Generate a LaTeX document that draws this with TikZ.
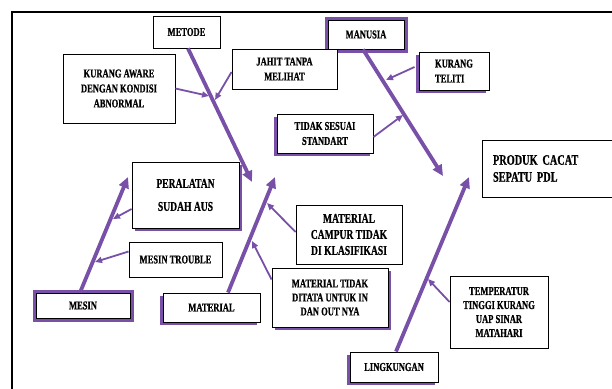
\documentclass[tikz,border=0pt]{standalone}
\usepackage{fontspec}
\setmainfont{Liberation Serif}[FakeStretch=0.71,FakeBold=0.6]
\usetikzlibrary{arrows.meta,shadows}
\definecolor{fishpurple}{RGB}{120,80,168}

\begin{document}
\begin{tikzpicture}[x=1pt,y=-1pt,
    box/.style={draw=black, line width=0.9pt, fill=white, align=center, inner sep=1pt,
        font=\bfseries\fontsize{12}{15}\selectfont},
    grayshadow/.style={drop shadow={shadow xshift=1.2pt, shadow yshift=-1.2pt, fill=black!35, opacity=0.7}},
    purplerb/.style={drop shadow={shadow xshift=3pt, shadow yshift=-3pt, fill=fishpurple, opacity=1}},
    purplelb/.style={drop shadow={shadow xshift=-3.5pt, shadow yshift=-3pt, fill=fishpurple, opacity=1}},
    purplering/.style={preaction={draw=fishpurple, line width=7pt}},
    spine/.style={draw=fishpurple, line width=3.8pt, -{Triangle[length=11pt,width=10pt]}},
    bone/.style={draw=fishpurple, line width=1.8pt, -{Triangle[length=7pt,width=6pt]}}]

    \useasboundingbox (0,0) rectangle (612,388);
    \draw[line width=2pt] (12,400) -- (12,12) -- (620,12);

    % category boxes
    \node[box, grayshadow, minimum width=67pt, minimum height=32pt] (metode) at (186.5,32) {METODE};
    \node[box, purplering, minimum width=76pt, minimum height=29pt] (manusia) at (366,34.5) {MANUSIA};
    \node[box, purplering, minimum width=94pt, minimum height=25pt] (mesin) at (83,305.5) {MESIN};
    \node[box, purplelb, minimum width=97pt, minimum height=29pt] (material) at (211.5,307.5) {MATERIAL};
    \node[box, purplelb, minimum width=88pt, minimum height=30pt] (lingkungan) at (394,367) {LINGKUNGAN};
    \node[box, grayshadow, align=left, inner xsep=10pt, text width=110pt, minimum width=132pt, minimum height=57pt,
        font=\bfseries\fontsize{14.5}{17}\selectfont] (produk) at (548,168.5) {PRODUK CACAT\\SEPATU PDL};

    % cause boxes
    \node[box, grayshadow, minimum width=112pt, minimum height=69pt] (aware) at (119,88.5) {KURANG AWARE\\DENGAN KONDISI\\ABNORMAL};
    \node[box, grayshadow, minimum width=105pt, minimum height=40pt] (jahit) at (284.5,69) {JAHIT TANPA\\MELIHAT};
    \node[box, purplelb, align=left, minimum width=70pt, minimum height=38pt] (teliti) at (454,71) {KURANG\\TELITI};
    \node[box, purplelb, minimum width=96pt, minimum height=39pt] (sesuai) at (325,133.5) {TIDAK SESUAI\\STANDART};
    \node[box, purplerb, minimum width=107pt, minimum height=66pt,
        font=\bfseries\fontsize{13.5}{16}\selectfont] (peralatan) at (185.5,195) {PERALATAN\\[7pt]SUDAH AUS};
    \node[box, grayshadow, minimum width=93pt, minimum height=35pt] (trouble) at (175.5,259.5) {MESIN TROUBLE};
    \node[box, grayshadow, minimum width=106pt, minimum height=59pt,
        font=\bfseries\fontsize{13.5}{16}\selectfont] (campur) at (349,234.5) {MATERIAL\\CAMPUR TIDAK\\DI KLASIFIKASI};
    \node[box, purplerb, minimum width=116pt, minimum height=59pt,
        font=\bfseries\fontsize{12}{14}\selectfont] (ditata) at (330,297.5) {MATERIAL TIDAK\\DITATA UNTUK IN\\DAN OUT NYA};
    \node[box, grayshadow, minimum width=98pt, minimum height=72pt,
        font=\bfseries\fontsize{12}{14}\selectfont] (temperatur) at (499,312) {TEMPERATUR\\TINGGI KURANG\\UAP SINAR\\MATAHARI};

    % heads of the spines
    \coordinate (metode-tip) at (252,182);
    \coordinate (manusia-tip) at (443,176);
    \coordinate (mesin-tip) at (128,177);
    \coordinate (material-tip) at (275,177);
    \coordinate (lingkungan-tip) at (469,177);

    \draw[spine] ([xshift=1.5pt]metode.south) -- (metode-tip);
    \draw[spine] ([xshift=-3pt]manusia.south) -- (manusia-tip);
    \draw[spine] ([xshift=-3pt]mesin.north) -- (mesin-tip);
    \draw[spine] ([xshift=16.5pt]material.north) -- (material-tip);
    \draw[spine] ([xshift=2pt]lingkungan.north) -- (lingkungan-tip);

    % causes on the spines
    \coordinate (aware-tip) at (209,96);
    \coordinate (jahit-tip) at (215,100);
    \coordinate (teliti-tip) at (386,80);
    \coordinate (sesuai-tip) at (403,115);
    \coordinate (peralatan-tip) at (113,219);
    \coordinate (trouble-tip) at (95,262);
    \coordinate (campur-tip) at (267,203);
    \coordinate (ditata-tip) at (252,241);
    \coordinate (temperatur-tip) at (428,279);

    \draw[bone] (aware.east) -- (aware-tip);
    \draw[bone] ([yshift=-3pt]jahit.west) -- (jahit-tip);
    \draw[bone] ([xshift=-4pt,yshift=4pt]teliti.west) -- (teliti-tip);
    \draw[bone] ([yshift=-3.5pt]sesuai.east) -- (sesuai-tip);
    \draw[bone] ([yshift=-14pt]peralatan.west) -- (peralatan-tip);
    \draw[bone] ([yshift=8pt]trouble.west) -- (trouble-tip);
    \draw[bone] ([yshift=2.5pt]campur.west) -- (campur-tip);
    \draw[bone] ([yshift=18pt]ditata.west) -- (ditata-tip);
    \draw[bone] ([yshift=10pt]temperatur.west) -- (temperatur-tip);
\end{tikzpicture}
\end{document}
